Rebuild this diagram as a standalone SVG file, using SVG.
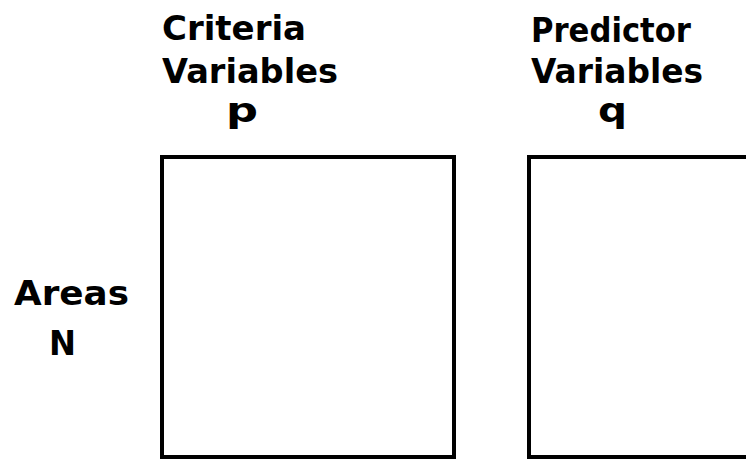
<svg xmlns="http://www.w3.org/2000/svg" width="746" height="461" viewBox="0 0 746 461">
<style>
.t{font-family:"DejaVu Sans","Liberation Sans",sans-serif;font-size:34px;font-weight:bold;fill:#000}
.box{fill:none;stroke:#000;stroke-width:4}
</style>
<rect width="746" height="461" fill="#fff"/>
<g id="criteria">
<text class="t" x="162" y="40" textLength="144" lengthAdjust="spacingAndGlyphs">Criteria</text>
<text class="t" x="162" y="83" textLength="176" lengthAdjust="spacingAndGlyphs">Variables</text>
<text class="t" x="226" y="122" textLength="32" lengthAdjust="spacingAndGlyphs">p</text>
<rect class="box" x="162" y="157" width="292" height="300"/>
</g>
<g id="predictor">
<text class="t" x="531" y="42" textLength="160" lengthAdjust="spacingAndGlyphs">Predictor</text>
<text class="t" x="531" y="83" textLength="172" lengthAdjust="spacingAndGlyphs">Variables</text>
<text class="t" x="598" y="122" textLength="29" lengthAdjust="spacingAndGlyphs">q</text>
<rect class="box" x="529" y="157" width="260" height="300"/>
</g>
<g id="areas">
<text class="t" x="14" y="305" textLength="115" lengthAdjust="spacingAndGlyphs">Areas</text>
<text class="t" x="49" y="355" textLength="27" lengthAdjust="spacingAndGlyphs">N</text>
</g>
<g id="connectors"></g>
</svg>
